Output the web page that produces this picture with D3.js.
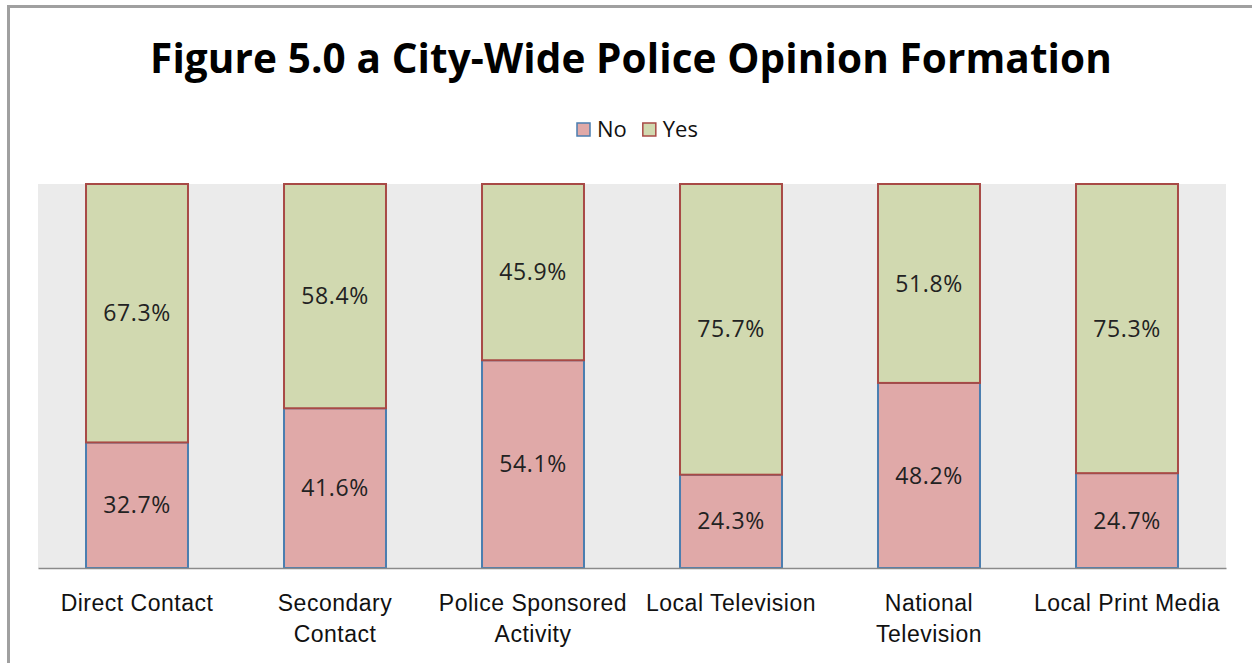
<!DOCTYPE html>
<html>
<head>
<meta charset="utf-8">
<script src="https://cdn.jsdelivr.net/npm/d3@7/dist/d3.min.js"></script>
<style>
  html, body { margin: 0; padding: 0; background: #fff; }
  svg { display: block; font-family: "Open Sans", "Noto Sans", sans-serif; }
</style>
</head>
<body>
<svg id="chart" width="1252" height="663"></svg>
<script>
// Share of respondents per information source
const categories = [
  ["Direct Contact"],
  ["Secondary", "Contact"],
  ["Police Sponsored", "Activity"],
  ["Local Television"],
  ["National", "Television"],
  ["Local Print Media"]
];
const noValues  = [32.7, 41.6, 54.1, 24.3, 48.2, 24.7];
const yesValues = [67.3, 58.4, 45.9, 75.7, 51.8, 75.3];
const seriesNames = ["No", "Yes"];

const fills   = { No: "#e0a9a8", Yes: "#d1d9b0" };
const strokes = { No: "#4a7eb0", Yes: "#a84a46" };

const svg = d3.select("#chart");

// outer frame
svg.append("rect")
  .attr("x", 8.5).attr("y", 6.5)
  .attr("width", 1260).attr("height", 700)
  .attr("fill", "#fff").attr("stroke", "#a0a0a0").attr("stroke-width", 3);

const plot = { left: 38, right: 1226, top: 184, bottom: 568 };

const keys = categories.map((c, i) => i);
const x = d3.scaleBand().domain(keys).range([plot.left, plot.right]).paddingInner(0.485).paddingOuter(0.2425);
const y = d3.scaleLinear().domain([0, 100]).range([plot.bottom, plot.top]);

// plot background
svg.append("rect")
  .attr("x", plot.left).attr("y", plot.top)
  .attr("width", plot.right - plot.left).attr("height", plot.bottom - plot.top)
  .attr("fill", "#ebebeb");

const rows = keys.map(i => ({ i, No: noValues[i], Yes: yesValues[i] }));
const stacked = d3.stack().keys(seriesNames)(rows);

const g = svg.append("g");
stacked.forEach(layer => {
  const name = layer.key;
  g.selectAll(null).data(layer).join("rect")
    .attr("x", d => x(d.data.i))
    .attr("y", d => y(d[1]))
    .attr("width", x.bandwidth())
    .attr("height", d => y(d[0]) - y(d[1]))
    .attr("fill", fills[name])
    .attr("stroke", strokes[name])
    .attr("stroke-width", 2);
  g.selectAll(null).data(layer).join("text")
    .attr("x", d => x(d.data.i) + x.bandwidth() / 2)
    .attr("y", d => (y(d[0]) + y(d[1])) / 2)
    .attr("dy", "0.35em")
    .attr("text-anchor", "middle")
    .attr("font-size", 23)
    .attr("letter-spacing", 0.6)
    .attr("fill", "#222")
    .text(d => (d[1] - d[0]).toFixed(1) + "%");
});

// baseline axis
const xAxis = d3.axisBottom(x).tickSize(0).tickFormat("");
const axisG = svg.append("g").attr("transform", `translate(0,${plot.bottom})`).call(xAxis);
axisG.select(".domain").attr("stroke", "#8a8a8a").attr("stroke-width", 1.5);

// category labels
axisG.selectAll(".tick").each(function(i) {
  const t = d3.select(this).append("text")
    .attr("fill", "#111")
    .attr("font-size", 23)
    .attr("letter-spacing", 0.5)
    .attr("text-anchor", "middle");
  categories[i].forEach((line, k) => {
    t.append("tspan").attr("x", 0).attr("y", 43 + k * 31).text(line);
  });
});

// title
svg.append("text")
  .attr("x", 631).attr("y", 73)
  .attr("text-anchor", "middle")
  .attr("font-size", 40.5).attr("font-weight", "bold")
  .attr("letter-spacing", 0.1)
  .attr("fill", "#000")
  .text("Figure 5.0 a City-Wide Police Opinion Formation");

// legend
const legend = svg.append("g").attr("transform", "translate(577,120)");
let lx = 0;
seriesNames.forEach(name => {
  legend.append("rect")
    .attr("x", lx).attr("y", 3).attr("width", 13).attr("height", 13)
    .attr("fill", fills[name]).attr("stroke", strokes[name]).attr("stroke-width", 1.5);
  const t = legend.append("text")
    .attr("x", lx + 20).attr("y", 17)
    .attr("font-size", 22).attr("fill", "#111")
    .text(name);
  lx += 20 + t.node().getComputedTextLength() + 16;
});
</script>
</body>
</html>
